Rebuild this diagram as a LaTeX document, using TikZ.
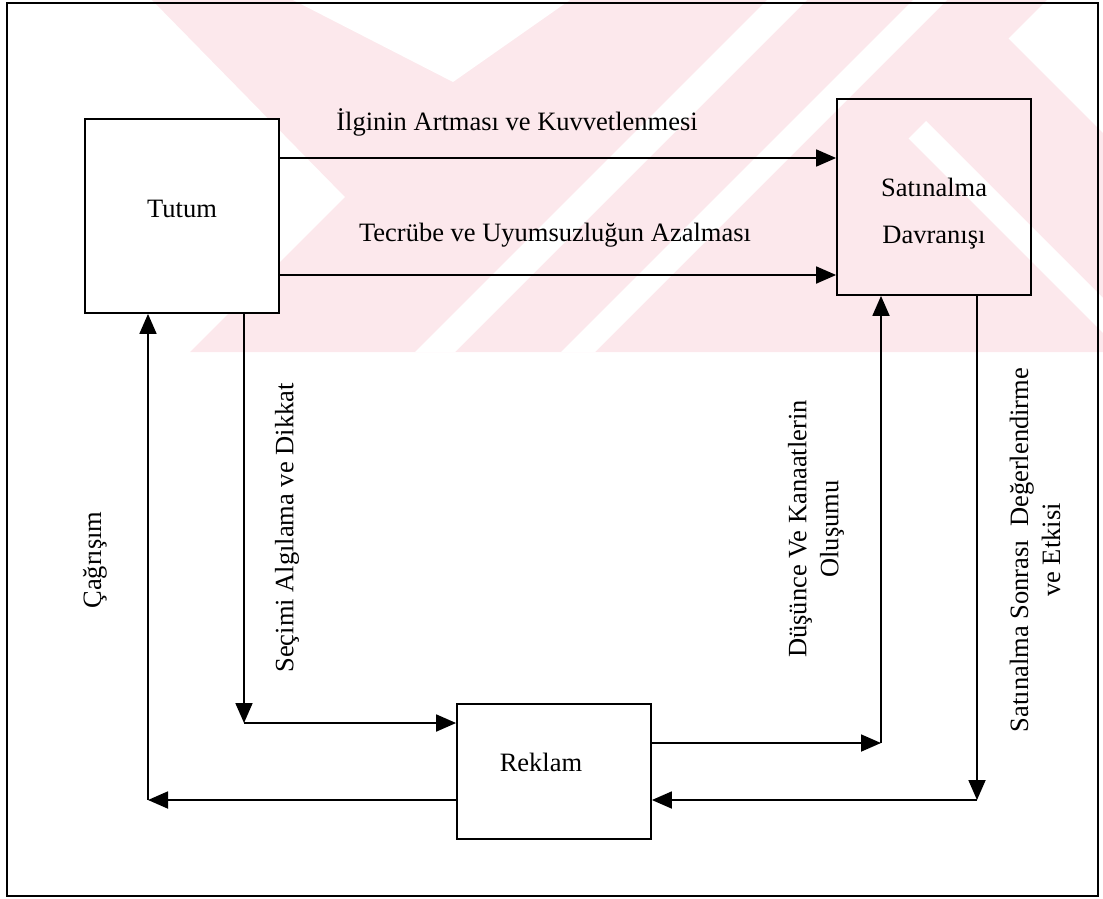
\documentclass[tikz,border=0pt]{standalone}
\usepackage{fontspec}
\setmainfont{Liberation Serif}
\usetikzlibrary{arrows.meta}
\definecolor{wmpink}{RGB}{252,232,236}
\begin{document}
\begin{tikzpicture}[x=1pt,y=-1pt,
  line width=1.8pt,
  >={Triangle[length=20pt,width=17pt]},
  box/.style={draw,line width=1.8pt,inner sep=0pt,minimum width=194pt},
  lbl/.style={font=\fontsize{26.5}{32}\selectfont,inner sep=0pt},
  vlbl/.style={lbl,rotate=90,align=center}]
\useasboundingbox (0,0) rectangle (1103,898);

% faint logo in the upper band
\begin{scope}
  \clip (0,0) rectangle (1103,352);
  \fill[wmpink] (152,0) -- (345,197) -- (190,352) -- (1103,352) -- (1103,0) -- cycle;
  \fill[white] (293,0) -- (453,82) -- (570,0) -- cycle;
  \fill[white] (767,0) -- (807,0) -- (455,352) -- (415,352) -- cycle;
  \fill[white] (913,0) -- (947,0) -- (595,352) -- (561,352) -- cycle;
  \fill[white] (1047,0) -- (1103,0) -- (1103,133) -- (1008.5,38.5) -- cycle;
  \fill[white] (908.5,138.5) -- (926,121) -- (1103,298) -- (1103,333) -- cycle;
\end{scope}

% outer frame
\draw[line width=1.8pt] (7,3) rectangle (1098,896);

% boxes
\node[box,fill=white,minimum height=194pt] (tutum) at (182,216) {};
\node[box,minimum height=196pt] (satin) at (934,197) {};
\node[box,minimum height=135pt] (reklam) at (554,771.5) {};

\node[lbl] (ttxt) at (182,209) {Tutum};
\node[lbl,align=center] (stxt) at (934,214) {Satınalma\\[15pt]Davranışı};
\node[lbl] (rtxt) at (541,762) {Reklam};

% routing points
\coordinate (r1) at (0,158);
\coordinate (r2) at (0,275);
\coordinate (c1) at (148,800);
\coordinate (c2) at (244,723);
\coordinate (c3) at (881,743);
\coordinate (c4) at (977,800);

% connectors
\draw[->] (tutum.east |- r1) -- (satin.west |- r1);
\draw[->] (tutum.east |- r2) -- (satin.west |- r2);
\draw[->] (tutum.south -| c2) -- (c2);
\draw[->] (c2) -- (reklam.west |- c2);
\draw[->] (reklam.west |- c1) -- (c1);
\draw[->] (c1) -- (tutum.south -| c1);
\draw[->] (reklam.east |- c3) -- (c3);
\draw[->] (c3) -- (satin.south -| c3);
\draw[->] (satin.south -| c4) -- (c4);
\draw[->] (c4) -- (reklam.east |- c4);

% connector labels
\node[lbl] (l1) at (517,122) {İlginin Artması ve Kuvvetlenmesi};
\node[lbl] (l2) at (555,235) {Tecrübe ve Uyumsuzluğun Azalması};
\node[vlbl] (l3) at (95,560) {Çağrışım};
\node[vlbl] (l4) at (287,528) {Seçimi Algılama ve Dikkat};
\node[vlbl] (l5) at (816,529) {Düşünce Ve Kanaatlerin\\Oluşumu};
\node[vlbl] (l6) at (1035,550) {Satınalma Sonrası\ \ Değerlendirme\\ve Etkisi};
\end{tikzpicture}
\end{document}
